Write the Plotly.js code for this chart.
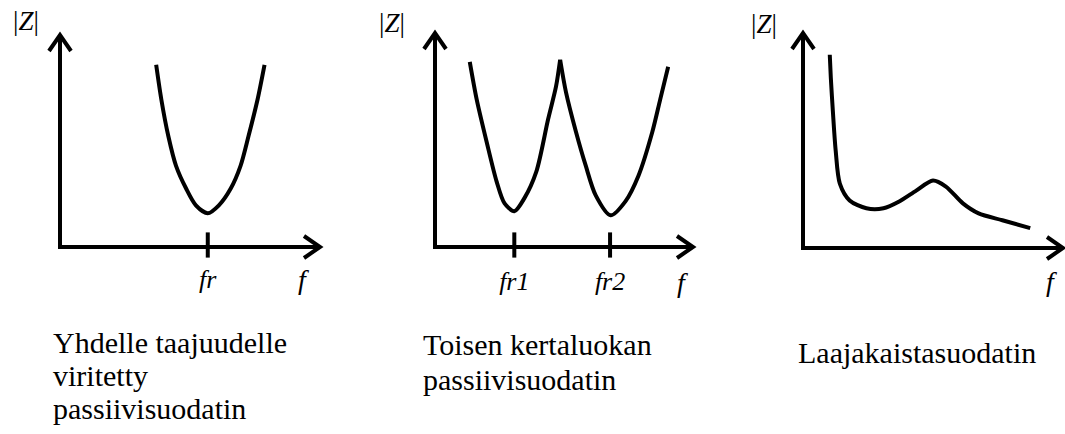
<!DOCTYPE html>
<html><head><meta charset="utf-8">
<script src="https://cdn.plot.ly/plotly-3.0.1.min.js"></script>
<style>
html,body{margin:0;padding:0;background:#fff;}
#wrap{position:relative;width:1065px;height:434px;overflow:hidden;}
.lbl{position:absolute;white-space:nowrap;font-family:'Liberation Serif';line-height:1;color:#000;}
</style>
</head><body><div id="wrap"><div id="chart"></div></div>
<script>
// ---- Data (arbitrary units) ----
// Panel 1: single-frequency tuned passive filter
const freq1 = [3.65, 3.85, 4.12, 4.42, 4.81, 5.19, 5.65, 6.08, 6.54, 6.92, 7.23, 7.58, 7.85];
const imp1  = [8.58, 6.93, 5.19, 3.77, 2.69, 1.89, 1.51, 1.89, 2.69, 3.77, 5.19, 6.93, 8.58];
const res1 = [5.65];
const res1Labels = ['fr'];
// Panel 2: second-order passive filter
const freq2 = [1.28, 1.55, 1.94, 2.33, 2.64, 3.02, 3.41, 3.88, 4.34, 4.65, 4.81, 5.04, 5.43, 5.81, 6.20, 6.78, 7.36, 7.87, 8.41, 8.72, 9.03];
const imp2  = [8.64, 6.87, 4.86, 2.99, 1.96, 1.59, 2.20, 3.46, 5.93, 7.48, 8.74, 7.20, 5.33, 3.74, 2.34, 1.40, 2.06, 3.27, 5.33, 6.87, 8.41];
const res2 = [3.02, 6.76];
const res2Labels = ['fr1', 'fr2'];
// Panel 3: broadband filter
const freq3 = [0.96, 1.00, 1.08, 1.19, 1.35, 1.73, 2.38, 3.04, 3.65, 4.31, 4.96, 5.46, 6.12, 6.73, 7.65, 8.73];
const imp3  = [8.98, 7.91, 6.33, 4.47, 2.93, 2.14, 1.77, 1.77, 2.09, 2.60, 3.07, 2.79, 2.00, 1.53, 1.21, 0.84];
const res3 = [];
const res3Labels = [];
const yLabel = '|<i>Z</i>|';
const xLabel = 'f';
const captions = [
  ['Yhdelle taajuudelle', 'viritetty', 'passiivisuodatin'],
  ['Toisen kertaluokan', 'passiivisuodatin'],
  ['Laajakaistasuodatin']
];

// ---- Layout helpers ----
const W = 1065, H = 434;
const toPaperX = v => v / W;
const toPaperY = v => 1 - v / H;

// pixel placement of each panel (axis line centres) and its texts (baselines)
const panels = [
  {x0: 60,  x1: 320,  yb: 247, yt: 35, z: [26, 31],  f: [302, 289], tb: 289, cap: {left: 53,  bl: [353, 386, 419]}},
  {x0: 435, x1: 693,  yb: 247, yt: 33, z: [392, 33], f: [681, 292], tb: 291, cap: {left: 423, bl: [355, 390]}},
  {x0: 803, x1: 1063, yb: 248, yt: 33, z: [764, 34], f: [1050, 291], tb: 291, cap: {left: 798, bl: [363]}}
];
const series = [
  {f: freq1, z: imp1, res: res1, lab: res1Labels},
  {f: freq2, z: imp2, res: res2, lab: res2Labels},
  {f: freq3, z: imp3, res: res3, lab: res3Labels}
];

const traces = [];
const layout = {
  width: W, height: H,
  margin: {l: 0, r: 0, t: 0, b: 0},
  paper_bgcolor: '#ffffff', plot_bgcolor: '#ffffff',
  showlegend: false,
  shapes: []
};

series.forEach((s, i) => {
  const n = i + 1;
  const xa = 'x' + (n === 1 ? '' : n), ya = 'y' + (n === 1 ? '' : n);
  const p = panels[i];
  // split at the sharp interior peak of panel 2 so the cusp stays pointed
  let segments = [[0, s.f.length]];
  if (i === 1) {
    let m = 0; for (let k = 1; k < s.z.length; k++) if (s.z[k] > s.z[m]) m = k;
    segments = [[0, m + 1], [m, s.f.length]];
  }
  segments.forEach(([a, b]) => {
    traces.push({
      type: 'scatter', mode: 'lines', xaxis: xa, yaxis: ya,
      x: s.f.slice(a, b), y: s.z.slice(a, b),
      line: {color: '#000000', width: 4, shape: 'spline', smoothing: 0.8},
      hoverinfo: 'skip'
    });
  });
  if (s.res.length) {
    traces.push({
      type: 'scatter', mode: 'markers', xaxis: xa, yaxis: ya,
      x: s.res, y: s.res.map(() => 0), cliponaxis: false,
      marker: {symbol: 'line-ns', size: 18, color: '#000000', line: {color: '#000000', width: 4}},
      hoverinfo: 'skip'
    });
  }
  const key = n === 1 ? '' : n;
  layout['xaxis' + key] = {
    domain: [toPaperX(p.x0 + 2), toPaperX(p.x1)], range: [0, 10], anchor: ya,
    showline: true, linewidth: 4, linecolor: '#000000',
    showgrid: false, zeroline: false, ticks: '', showticklabels: false, fixedrange: true
  };
  layout['yaxis' + key] = {
    domain: [toPaperY(p.yb - 2), toPaperY(p.yt)], range: [0, 10], anchor: xa,
    showline: true, linewidth: 4, linecolor: '#000000',
    showgrid: false, zeroline: false, ticks: '', showticklabels: false, fixedrange: true
  };
  // arrow heads
  layout.shapes.push({
    type: 'path', xref: xa + ' domain', yref: ya + ' domain',
    xsizemode: 'pixel', ysizemode: 'pixel', xanchor: 1, yanchor: 0,
    path: 'M-16,9 L0,-2 L-16,-13', line: {color: '#000000', width: 4}
  });
  layout.shapes.push({
    type: 'path', xref: xa + ' domain', yref: ya + ' domain',
    xsizemode: 'pixel', ysizemode: 'pixel', xanchor: 0, yanchor: 1,
    path: 'M-13,-16 L-2,0 L9,-16', line: {color: '#000000', width: 4}
  });
});

// ---- text overlay (real HTML text, serif) ----
const wrap = document.getElementById('wrap');
function addText(html, x, baseline, size, center) {
  const d = document.createElement('div');
  d.className = 'lbl';
  d.innerHTML = html;
  d.style.fontSize = size + 'px';
  d.style.top = (baseline - 0.8375 * size) + 'px';
  d.style.left = x + 'px';
  if (center) d.style.transform = 'translateX(-50%)';
  wrap.appendChild(d);
}

Plotly.newPlot('chart', traces, layout, {displayModeBar: false, staticPlot: true}).then(gd => {
  series.forEach((s, i) => {
    const p = panels[i];
    const key = i === 0 ? '' : (i + 1);
    const ax = gd._fullLayout['xaxis' + key];
    // resonance tick labels placed through the axis scale
    s.res.forEach((v, k) => {
      addText('<i>' + s.lab[k] + '</i>', ax._offset + ax.l2p(v), p.tb, 26, true);
    });
    addText(yLabel, p.z[0], p.z[1], 27, true);
    addText('<i>' + xLabel + '</i>', p.f[0], p.f[1], 28, true);
    captions[i].forEach((line, k) => addText(line, p.cap.left, p.cap.bl[k], 30, false));
  });
});
</script>
</body></html>
